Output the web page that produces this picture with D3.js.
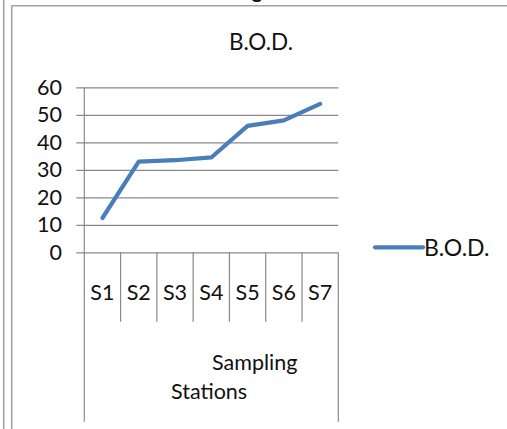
<!DOCTYPE html>
<html>
<head>
<meta charset="utf-8">
<script src="https://cdn.jsdelivr.net/npm/d3@7/dist/d3.min.js"></script>
<style>
  html, body { margin: 0; padding: 0; background: #fff; }
  svg { display: block; }
  text { font-family: Lato, "Open Sans", sans-serif; fill: #111; }
</style>
</head>
<body>
<svg id="chart" width="507" height="429"></svg>
<script>
// B.O.D. measured at each sampling station
const stations = ["S1", "S2", "S3", "S4", "S5", "S6", "S7"];
const bodValues = [12.5, 33, 33.5, 34.5, 46, 48, 54];
const yTicks = [0, 10, 20, 30, 40, 50, 60];
const seriesName = "B.O.D.";
const chartTitle = "B.O.D.";
const axisTitleLines = ["Sampling", "Stations"];

const svg = d3.select("#chart");
const lineColor = "#4a7ebb";
const gridColor = "#898989";
const frameColor = "#a3a3a3";

// Page frame lines around the chart object
svg.append("line").attr("x1", 3.7).attr("x2", 3.7).attr("y1", 0).attr("y2", 429)
  .attr("stroke", frameColor).attr("stroke-width", 1.6);
svg.append("line").attr("x1", 11.7).attr("x2", 11.7).attr("y1", 5.8).attr("y2", 429)
  .attr("stroke", frameColor).attr("stroke-width", 1.6);
svg.append("line").attr("x1", 11).attr("x2", 507).attr("y1", 5.8).attr("y2", 5.8)
  .attr("stroke", frameColor).attr("stroke-width", 1.6);

// Tail of the caption above the chart
svg.append("text").attr("x", 257).attr("y", -2).attr("text-anchor", "middle")
  .style("font-size", "20px").style("font-weight", "bold").text("g");

const plot = { left: 84.3, right: 338.3, top: 87.3, bottom: 252.4 };

const x = d3.scaleBand().domain(stations).range([plot.left, plot.right]).padding(0);
const y = d3.scaleLinear().domain([0, 60]).range([plot.bottom, plot.top]);

// Horizontal gridlines with outward tick marks
const yAxis = d3.axisLeft(y).tickValues(yTicks).tickSize(plot.right - plot.left + 8)
  .tickPadding(14).tickFormat(d3.format("d"));
const gy = svg.append("g").attr("transform", `translate(${plot.right},0)`).call(yAxis);
gy.select(".domain").remove();
gy.selectAll(".tick line").attr("stroke", gridColor).attr("stroke-width", 1.2);
gy.selectAll(".tick text").style("font-size", "21.5px").attr("fill", "#111")
  .attr("x", -(plot.right - 62));

// Vertical value axis line
svg.append("line").attr("x1", plot.left).attr("x2", plot.left)
  .attr("y1", plot.top).attr("y2", plot.bottom)
  .attr("stroke", gridColor).attr("stroke-width", 1.2);

// Category separators below the axis; outer ones bracket the axis title
const bounds = stations.map(s => x(s)).concat([plot.right]);
svg.append("g").selectAll("line").data(bounds).join("line")
  .attr("x1", d => d).attr("x2", d => d)
  .attr("y1", plot.bottom)
  .attr("y2", (d, i) => (i === 0 || i === bounds.length - 1) ? 421.7 : 321.7)
  .attr("stroke", gridColor).attr("stroke-width", 1.2);

// Category labels
svg.append("g").selectAll("text").data(stations).join("text")
  .attr("x", d => x(d) + x.bandwidth() / 2)
  .attr("y", 300)
  .attr("text-anchor", "middle")
  .style("font-size", "21.5px")
  .text(d => d);

// Axis title, wrapped on two lines
svg.append("text").attr("x", 212).attr("y", 370).style("font-size", "21.5px").text(axisTitleLines[0]);
svg.append("text").attr("x", 171).attr("y", 399).style("font-size", "21.5px").text(axisTitleLines[1]);

// Series line
const line = d3.line()
  .x((d, i) => x(stations[i]) + x.bandwidth() / 2)
  .y(d => y(d));
svg.append("path").datum(bodValues).attr("d", line)
  .attr("fill", "none").attr("stroke", lineColor).attr("stroke-width", 4.2)
  .attr("stroke-linejoin", "round").attr("stroke-linecap", "round");

// Chart title
svg.append("text").attr("x", 261).attr("y", 49.5).attr("text-anchor", "middle")
  .style("font-size", "22.5px").text(chartTitle);

// Legend
const legend = svg.append("g");
legend.append("line").attr("x1", 375).attr("x2", 423).attr("y1", 247.3).attr("y2", 247.3)
  .attr("stroke", lineColor).attr("stroke-width", 4.2).attr("stroke-linecap", "round");
legend.append("text").attr("x", 424).attr("y", 255.5).style("font-size", "23px").text(seriesName);
</script>
</body>
</html>
